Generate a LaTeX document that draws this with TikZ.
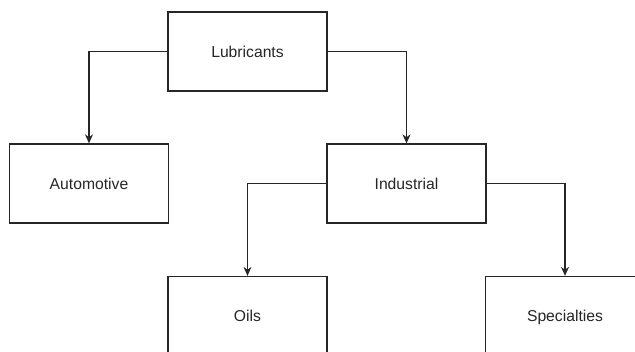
\documentclass[tikz,border=0pt]{standalone}
\usepackage{fontspec}
\setmainfont{Liberation Sans}
\usetikzlibrary{arrows.meta}
\begin{document}
\begin{tikzpicture}[x=1pt,y=-1pt,
  box/.style={draw=black!85, line width=1.3pt, minimum width=159pt, minimum height=79pt,
    inner sep=0pt, text height=11.5pt, text depth=0pt,
    font=\fontsize{15.7}{18}\selectfont, text=black!85},
  link/.style={draw=black!85, line width=1.1pt, -{Stealth[length=9pt,width=8pt]}}]
  \useasboundingbox (0,0) rectangle (635,351);
  \clip (0,0) rectangle (635,351);
  \fill[white] (0,0) rectangle (635,351);
  \node[box] (lub) at (247.5,51.5) {Lubricants};
  \node[box] (auto) at (89,183.5) {Automotive};
  \node[box] (ind) at (406.5,183.5) {Industrial};
  \node[box] (oil) at (247.5,316) {Oils};
  \node[box] (spec) at (565,316) {Specialties};
  \draw[link] (lub.west) -| (auto.north);
  \draw[link] (lub.east) -| (ind.north);
  \draw[link] (ind.west) -| (oil.north);
  \draw[link] (ind.east) -| (spec.north);
\end{tikzpicture}
\end{document}
